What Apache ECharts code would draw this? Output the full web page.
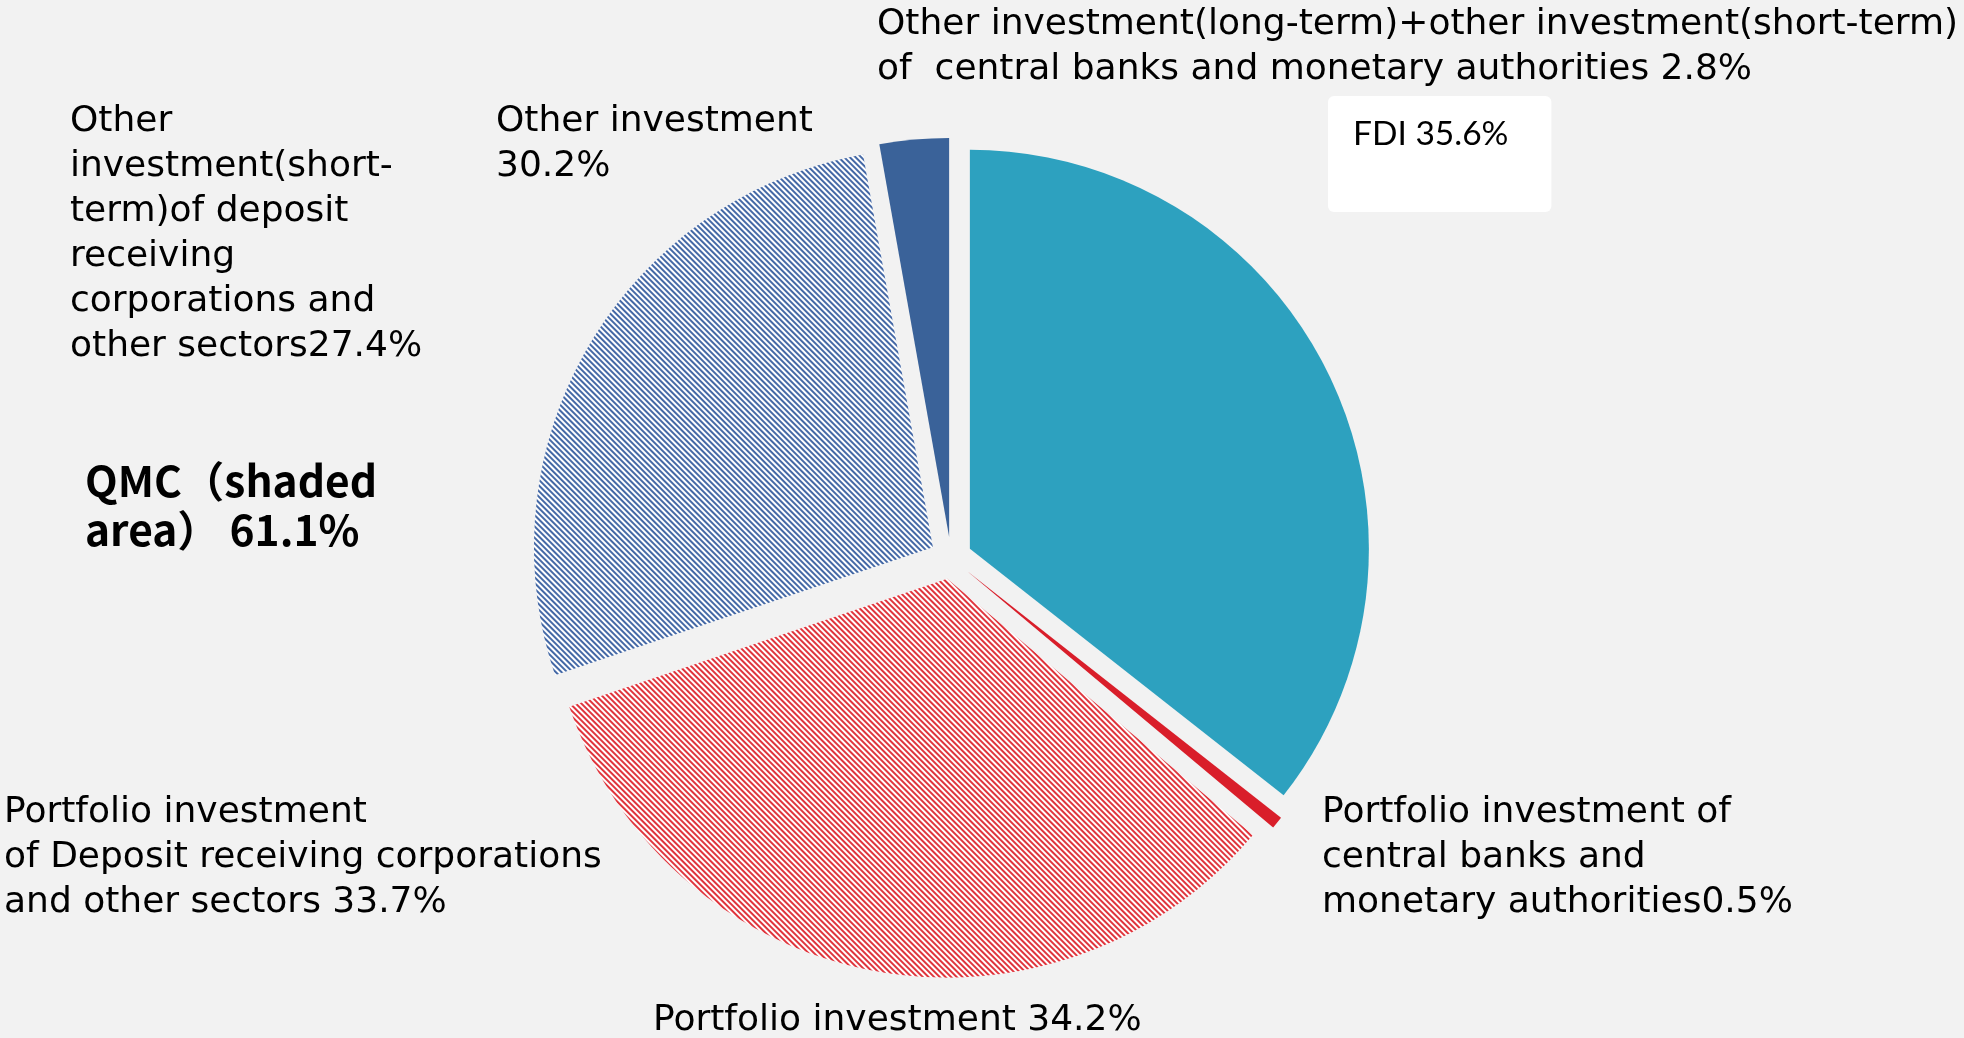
<!DOCTYPE html>
<html>
<head>
<meta charset="utf-8">
<script src="https://cdn.jsdelivr.net/npm/echarts@6/dist/echarts.min.js"></script>
<style>
html,body{margin:0;padding:0;background:#F2F2F2;}
#chart{width:1964px;height:1038px;}
</style>
</head>
<body>
<div id="chart"></div>
<script>
// ---- data ----
const categories = [
  'FDI',
  'Portfolio investment of central banks and monetary authorities',
  'Portfolio investment of Deposit receiving corporations and other sectors',
  'Other investment(short-term)of deposit receiving corporations and other sectors',
  'Other investment(long-term)+other investment(short-term) of central banks and monetary authorities'
];
const values = [35.6, 0.5, 33.7, 27.4, 2.8];
const labelTexts = [
  'FDI ',
  'Portfolio investment of\ncentral banks and\nmonetary authorities',
  'Portfolio investment\nof Deposit receiving corporations\nand other sectors ',
  'Other\ninvestment(short-\nterm)of deposit\nreceiving\ncorporations and\nother sectors',
  'Other investment(long-term)+other investment(short-term)\nof  central banks and monetary authorities '
];
const groupOtherInvestment = [3, 4];
const groupPortfolio = [1, 2];
const groupQMC = [2, 3];

// ---- styles ----
const colors = ['#2DA1BF', '#D91E2A', '#FFFFFF', '#FFFFFF', '#3A6299'];
const decals = [
  null, null,
  { symbol: 'rect', symbolSize: 1, color: '#E0353D', dashArrayX: [1, 0], dashArrayY: [2, 2], rotation: Math.PI / 4 },
  { symbol: 'rect', symbolSize: 1, color: '#4569A6', dashArrayX: [1, 0], dashArrayY: [2, 2], rotation: Math.PI / 4 },
  null
];
// top-left of each slice label
const labelPos = [[1328, 96], [1322, 790], [4, 790], [70, 99], [877, 2]];

function sumOf(idx) { return idx.reduce((s, i) => s + values[i], 0).toFixed(1); }

const baseFont = '36px "DejaVu Sans"';
const chart = echarts.init(document.getElementById('chart'), null, { renderer: 'canvas' });

const data = values.map((v, i) => {
  const item = { name: categories[i], value: v, selected: true, itemStyle: { color: colors[i] } };
  if (decals[i]) item.itemStyle.decal = decals[i];
  return item;
});

const sliceLabels = values.map((v, i) => {
  const style = {
    text: labelTexts[i] + v + '%', fill: '#000', font: baseFont, lineHeight: 45
  };
  if (i === 0) {
    style.font = '33.5px Lato';
    style.lineHeight = 40;
    style.backgroundColor = '#FFFFFF';
    style.borderRadius = 6;
    style.padding = [18, 43, 58, 25];
  }
  return { type: 'text', left: labelPos[i][0], top: labelPos[i][1], silent: true, style: style };
});

chart.setOption({
  backgroundColor: '#F2F2F2',
  animation: false,
  series: [{
    type: 'pie',
    center: [951, 558],
    radius: [0, 399],
    startAngle: 90,
    clockwise: true,
    selectedMode: 'multiple',
    selectedOffset: 21,
    avoidLabelOverlap: false,
    emphasis: { disabled: true },
    itemStyle: { borderWidth: 0 },
    label: { show: false },
    labelLine: { show: false },
    data: data
  }],
  graphic: sliceLabels.concat([
    {
      type: 'text', left: 496, top: 99, silent: true,
      style: { text: 'Other investment\n' + sumOf(groupOtherInvestment) + '%', fill: '#000',
        font: baseFont, lineHeight: 45 }
    },
    {
      type: 'text', left: 653, top: 998, silent: true,
      style: { text: 'Portfolio investment ' + sumOf(groupPortfolio) + '%', fill: '#000',
        font: baseFont, lineHeight: 45 }
    },
    {
      type: 'text', left: 85, top: 456, silent: true,
      style: { text: 'QMC（shaded\narea） ' + sumOf(groupQMC) + '%', fill: '#000',
        font: 'bold 42.5px "Noto Sans CJK SC"', lineHeight: 49 }
    }
  ])
});
</script>
</body>
</html>
